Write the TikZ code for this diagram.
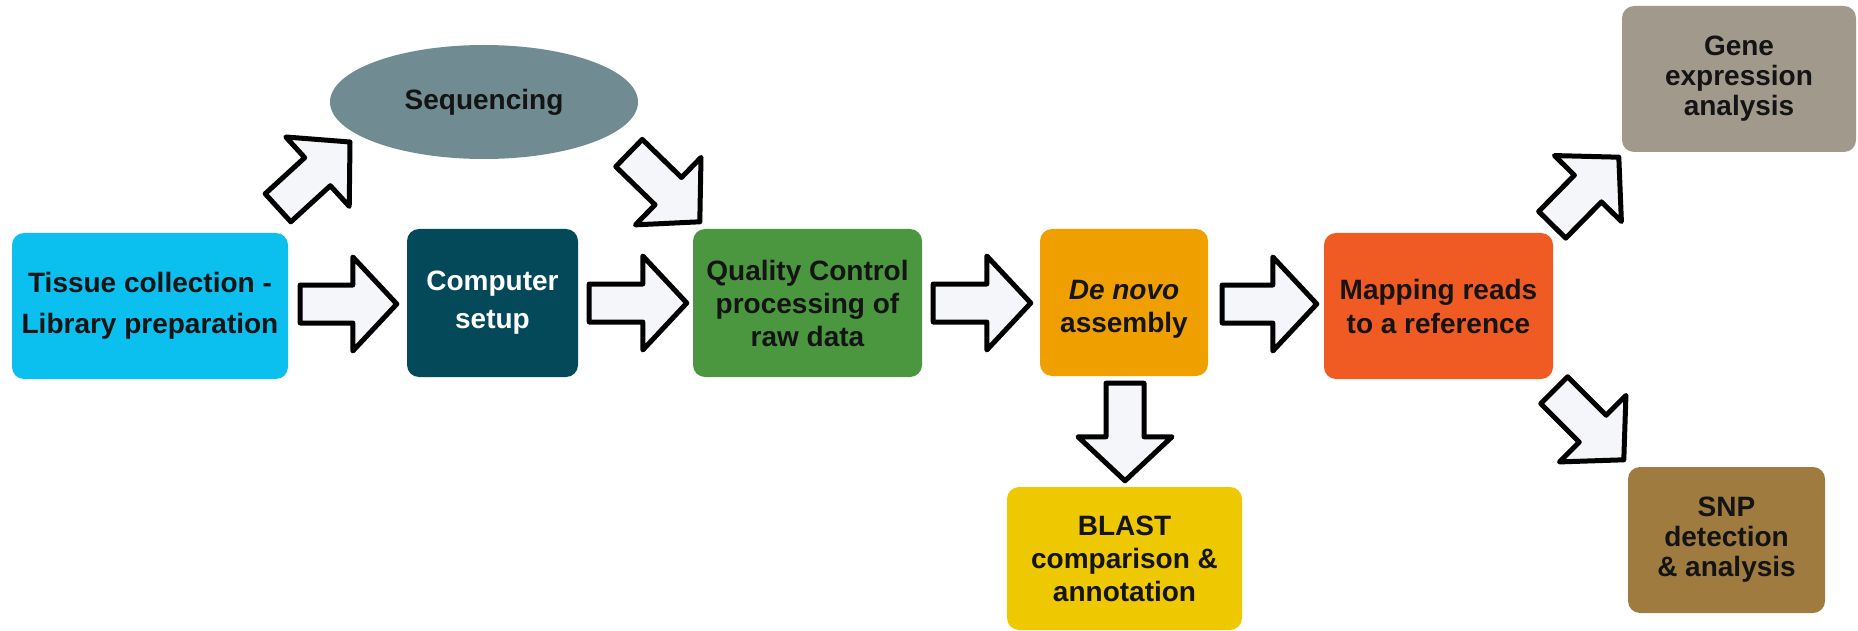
\documentclass[tikz,border=0pt]{standalone}
\usepackage{fontspec}
\setmainfont{Liberation Sans}
\usetikzlibrary{calc,shapes.geometric}
\definecolor{ctissue}{HTML}{0BBFEF}
\definecolor{ccomp}{HTML}{04495A}
\definecolor{cqc}{HTML}{4A973F}
\definecolor{cdenovo}{HTML}{EFA000}
\definecolor{cmap}{HTML}{F05A23}
\definecolor{cblast}{HTML}{EEC800}
\definecolor{cgene}{HTML}{A19A8C}
\definecolor{csnp}{HTML}{A07B3F}
\definecolor{cseq}{HTML}{718B92}
\definecolor{textc}{HTML}{141414}
\definecolor{arrowfill}{HTML}{F5F6F9}
\tikzset{
  box/.style={rectangle, rounded corners=12pt, inner sep=0pt, align=center,
    font=\bfseries\fontsize{28}{33}\selectfont, text=textc},
  tightbox/.style={box, font=\bfseries\fontsize{28}{30}\selectfont},
  blockarrow/.style={draw=black, line width=5pt, fill=arrowfill, line join=round},
}
\newcommand{\blockarr}[2]{%
  \draw[blockarrow]
    ($(#1)!19pt!90:(#2)$) --
    ($($(#2)!44pt!(#1)$)!19pt!90:(#2)$) --
    ($($(#2)!44pt!(#1)$)!47pt!90:(#2)$) --
    (#2) --
    ($($(#2)!44pt!(#1)$)!47pt!-90:(#2)$) --
    ($($(#2)!44pt!(#1)$)!19pt!-90:(#2)$) --
    ($(#1)!19pt!-90:(#2)$) -- cycle;%
}
\begin{document}
\begin{tikzpicture}[x=1pt,y=-1pt]
\fill[white] (0,0) rectangle (1858,631);
\useasboundingbox (0,0) rectangle (1858,631);

% nodes
\node[box, fill=ctissue, minimum width=276pt, minimum height=146pt,
  font=\bfseries\fontsize{28}{41}\selectfont] (tissue) at (150,306)
  {Tissue collection -\\Library preparation};
\node[box, fill=ccomp, text=white, minimum width=171pt, minimum height=148pt,
  font=\bfseries\fontsize{28}{38}\selectfont] (comp) at (492.5,303)
  {Computer\\setup};
\node[box, fill=cqc, minimum width=229pt, minimum height=148pt] (qc) at (807.5,303)
  {Quality Control\\processing of\\raw data};
\node[box, fill=cdenovo, minimum width=168pt, minimum height=147pt] (denovo) at (1124,302.5)
  {\rule{0pt}{32pt}\textit{De novo}\\assembly};
\node[box, fill=cmap, minimum width=229pt, minimum height=146pt,
  font=\bfseries\fontsize{28}{34}\selectfont] (map) at (1438.5,306)
  {Mapping reads\\to a reference};
\node[box, fill=cblast, minimum width=235pt, minimum height=143pt] (blast) at (1124.5,558.5)
  {BLAST\\comparison \&\\annotation};
\node[tightbox, fill=cgene, minimum width=234pt, minimum height=146pt] (gene) at (1739,79)
  {Gene\\expression\\analysis};
\node[tightbox, fill=csnp, minimum width=197pt, minimum height=146pt] (snp) at (1726.5,540)
  {SNP\\detection\\\& analysis};
\node[ellipse, fill=cseq, inner sep=0pt, minimum width=308pt, minimum height=114pt,
  font=\bfseries\fontsize{28}{33}\selectfont, text=textc] (seq) at (484,102) {Sequencing};

% arrow end points, relative to the nodes they join
\coordinate (a1s) at ($(tissue.east)+(12,-2)$);
\coordinate (a1e) at ($(comp.west)+(-10,1)$);
\coordinate (a2s) at ($(comp.east)+(11,0)$);
\coordinate (a2e) at ($(qc.west)+(-6,0)$);
\coordinate (a3s) at ($(qc.east)+(11,0)$);
\coordinate (a3e) at ($(denovo.west)+(-9,0.5)$);
\coordinate (a4s) at ($(denovo.east)+(14,1.5)$);
\coordinate (a4e) at ($(map.west)+(-7,-2)$);
\coordinate (a5s) at ($(denovo.south)+(1,7)$);
\coordinate (a5e) at ($(blast.north)+(0.5,-6)$);
\coordinate (a6s) at ($(tissue.north)+(128,-25)$);
\coordinate (a6e) at ($(seq.center)+(-134,40)$);
\coordinate (a7s) at ($(seq.center)+(145,51)$);
\coordinate (a7e) at ($(qc.north west)+(7,-7)$);
\coordinate (a8s) at ($(map.north east)+(-1,-8)$);
\coordinate (a8e) at ($(gene.south west)+(-3,5)$);
\coordinate (a9s) at ($(map.south east)+(1,11)$);
\coordinate (a9e) at ($(snp.north west)+(-4,-7)$);

\blockarr{a1s}{a1e}
\blockarr{a2s}{a2e}
\blockarr{a3s}{a3e}
\blockarr{a4s}{a4e}
\blockarr{a5s}{a5e}
\blockarr{a6s}{a6e}
\blockarr{a7s}{a7e}
\blockarr{a8s}{a8e}
\blockarr{a9s}{a9e}
\end{tikzpicture}
\end{document}
